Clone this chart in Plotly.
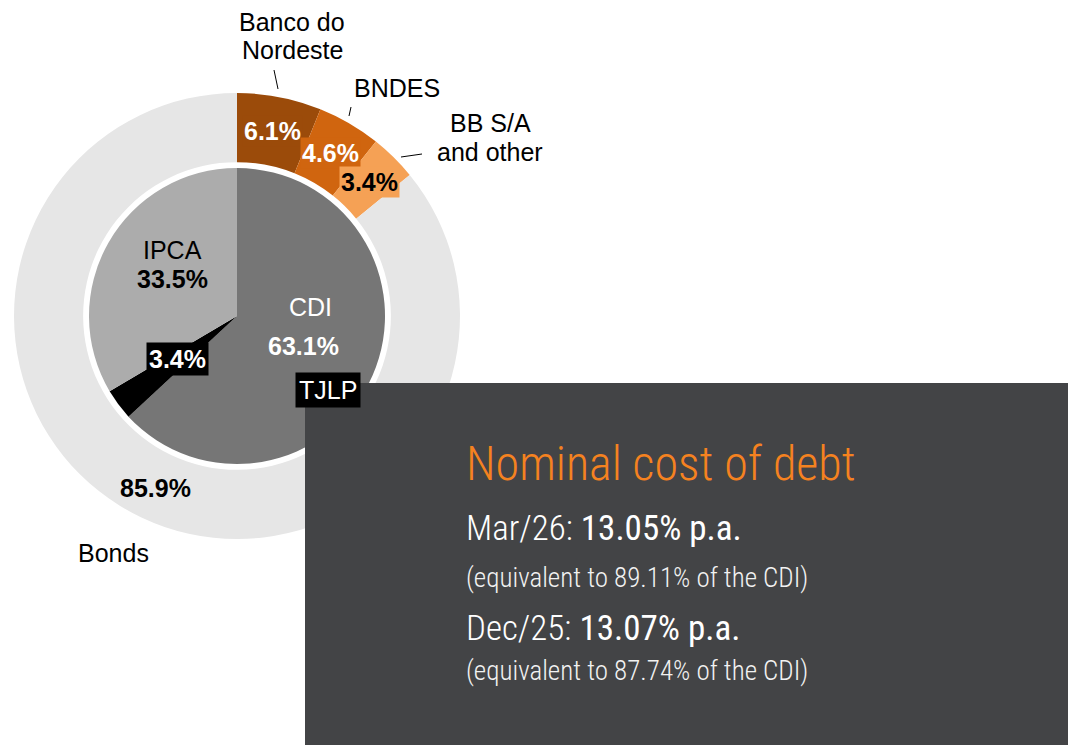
import plotly.graph_objects as go

# Debt breakdown: creditor (outer ring) and indexer (inner pie)
creditor_names = ["Banco do<br>Nordeste", "BNDES", "BB S/A<br>and other", "Bonds"]
creditor_share = [6.1, 4.6, 3.4, 85.9]
creditor_colors = ["#9b4b0a", "#d0650f", "#f5a155", "#e6e6e6"]

indexer_names = ["CDI", "TJLP", "IPCA"]
indexer_share = [63.1, 3.4, 33.5]
indexer_colors = ["#767676", "#000000", "#acacac"]

# Nominal cost of debt
cost_periods = ["Mar/26", "Dec/25"]
cost_rates = [13.05, 13.07]
cost_cdi_pct = [89.11, 87.74]

W, H = 1068, 745
CX, CY = 237, 316          # pie centre in pixels
R_OUT, R_IN = 223, 148     # outer ring / inner pie radius


def fx(x):
    return x / W


def fy(y):
    return 1 - y / H


def pct(v):
    return f"{v:.1f}%"


FONT = "Liberation Sans, Arial, sans-serif"
NARROW = "Roboto Condensed, Liberation Sans Narrow, DejaVu Sans Condensed, sans-serif"

fig = go.Figure()

fig.add_trace(go.Pie(
    labels=[n.replace("<br>", " ") for n in creditor_names],
    values=creditor_share,
    hole=0.69,
    sort=False,
    direction="clockwise",
    rotation=0,
    marker=dict(colors=creditor_colors, line=dict(width=0)),
    textinfo="none",
    domain=dict(x=[fx(CX - R_OUT), fx(CX + R_OUT)], y=[fy(CY + R_OUT), fy(CY - R_OUT)]),
    showlegend=False,
))

fig.add_trace(go.Pie(
    labels=indexer_names,
    values=indexer_share,
    sort=False,
    direction="clockwise",
    rotation=0,
    marker=dict(colors=indexer_colors, line=dict(width=0)),
    textinfo="none",
    domain=dict(x=[fx(CX - R_IN), fx(CX + R_IN)], y=[fy(CY + R_IN), fy(CY - R_IN)]),
    showlegend=False,
))

shapes = [
    # dark panel with the cost of debt
    dict(type="rect", xref="paper", yref="paper", x0=fx(305), x1=1, y0=0, y1=fy(383),
         fillcolor="#434446", line=dict(width=0), layer="above"),
]
# leader lines for the creditor labels
for (x0, y0, x1, y1) in [(274, 70, 278, 89), (351, 107, 349, 116), (401, 157, 422, 154)]:
    shapes.append(dict(type="line", xref="paper", yref="paper",
                       x0=fx(x0), y0=fy(y0), x1=fx(x1), y1=fy(y1),
                       line=dict(color="#000000", width=1)))

ann = []


def label(x, y, text, size=25, color="#000000", bold=False, bg=None, pad=1, font=FONT,
          xanchor="center", weight=None):
    t = f"<b>{text}</b>" if bold else text
    f = dict(family=font, size=size, color=color)
    if weight is not None:
        f["weight"] = weight
    d = dict(x=fx(x), y=fy(y), xref="paper", yref="paper", text=t, showarrow=False,
             xanchor=xanchor, yanchor="middle", font=f)
    if bg:
        d.update(bgcolor=bg, borderpad=pad)
    ann.append(d)


# creditor names (two-line names are set line by line for tighter spacing)
creditor_label_pos = [((292, 22), (292, 50)), ((397, 88),), ((490, 123), (490, 152)), ((113, 553),)]
for name, positions in zip(creditor_names, creditor_label_pos):
    for line_text, (x, y) in zip(name.split("<br>"), positions):
        label(x, y, line_text)

# creditor shares
label(272, 131, pct(creditor_share[0]), color="#ffffff", bold=True, bg=creditor_colors[0], pad=1)
label(330, 153, pct(creditor_share[1]), color="#ffffff", bold=True, bg=creditor_colors[1], pad=1)
label(369, 182, pct(creditor_share[2]), color="#000000", bold=True, bg=creditor_colors[2], pad=1)
label(155, 488, pct(creditor_share[3]), bold=True)

# indexer labels
label(310, 307, indexer_names[0], color="#ffffff")
label(303, 346, pct(indexer_share[0]), color="#ffffff", bold=True)
label(328, 390, indexer_names[1], color="#ffffff", bg="#000000", pad=3)
label(177, 359, pct(indexer_share[1]), color="#ffffff", bold=True, bg="#000000", pad=2)
label(172, 250, indexer_names[2])
label(172, 279, pct(indexer_share[2]), bold=True)

# cost of debt panel text
label(464, 463, "Nominal cost of debt", size=48, color="#f58220", font=NARROW,
      xanchor="left", weight=300)
rows_y = [(528, 578), (628, 671)]
for (period, rate, cdi), (ya, yb) in zip(zip(cost_periods, cost_rates, cost_cdi_pct), rows_y):
    label(464, ya,
          f"<span style='font-weight:300'>{period}:</span> {rate:.2f}% p.a.",
          size=35, color="#ffffff", font=NARROW, xanchor="left")
    label(464, yb, f"(equivalent to {cdi:.2f}% of the CDI)", size=27, color="#f2f2f2",
          font=NARROW, xanchor="left", weight=300)

fig.update_layout(
    width=W, height=H,
    margin=dict(l=0, r=0, t=0, b=0),
    paper_bgcolor="#ffffff",
    plot_bgcolor="#ffffff",
    shapes=shapes,
    annotations=ann,
)

fig.write_html("out.html")
